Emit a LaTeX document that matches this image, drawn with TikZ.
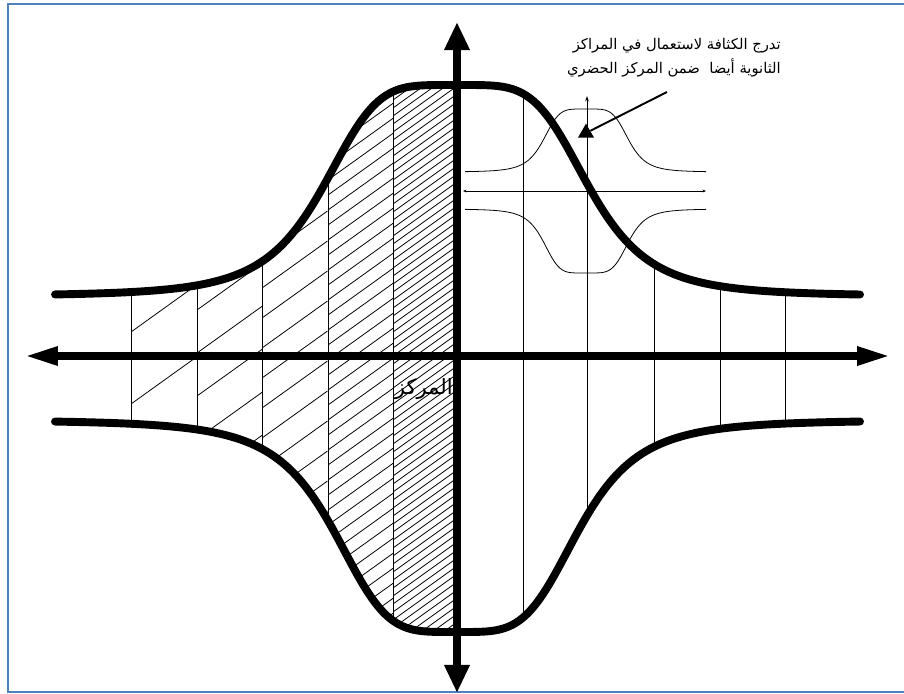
\documentclass[tikz,border=0pt]{standalone}
\usepackage{fontspec}
\newfontfamily\arabicfont[Script=Arabic]{DejaVu Sans}
\TeXXeTstate=1
\usetikzlibrary{arrows.meta,positioning,shapes.geometric}
\definecolor{frameblue}{HTML}{4F81BD}

\begin{document}
\begin{tikzpicture}[x=0.02cm,y=-0.02cm,
  declare function={fu(\x)=296-211/(1+((abs(\x-456)+0.01)/135)^4.5);
    fl(\x)=420+212/(1+((abs(\x-456)+0.01)/125)^4.2);
    bump(\x)=1/(1+((abs(\x-586)+0.01)/43)^5);},
  bound/.style={line width=4.5pt,line cap=round},
  axis/.style={line width=4pt},
  grid/.style={line width=0.45pt},
  hatch/.style={line width=0.45pt},
  thinline/.style={line width=0.45pt},
  tipmark/.style={regular polygon,regular polygon sides=3,fill,minimum size=10.6pt,inner sep=0pt},
  pointer/.style={line width=1.1pt}]
  \useasboundingbox (0,0) rectangle (904,694);
  \draw[frameblue,line width=1.2pt] (8,4) rectangle (920,692);

  \begin{scope}
    \clip plot[domain=131:456,samples=80] (\x,{fu(\x)}) -- plot[domain=456:131,samples=80] (\x,{fl(\x)}) -- cycle;
    \foreach \xa/\sp/\yo in {131/72/44,197/43/52,262/30/78,328/15/60,393/8/60} {
      \begin{scope}
        \clip (\xa,60) rectangle (\xa+65.5,660);
        \foreach \k [evaluate=\k as \yy using \yo+\k*\sp] in {0,...,85}
          \draw[hatch] (\xa,\yy) -- (\xa+65.5,\yy-47);
      \end{scope}
    }
  \end{scope}

  \foreach \gx in {131,197,262,328,393,523,654,720,785}
    \draw[grid] (\gx,{fu(\gx)}) -- (\gx,{fl(\gx)});
  \draw[grid,-{Stealth[length=3pt,width=2pt]}] (587,{fl(587)}) -- (587,96);

  \draw[thinline,{Stealth[length=2pt,width=1.6pt]}-{Stealth[length=2pt,width=1.6pt]}] (463,191) -- (706,191);
  \draw[thinline] plot[domain=465:706,samples=100,smooth] (\x,{172-63*bump(\x)});
  \draw[thinline] plot[domain=465:706,samples=100,smooth] (\x,{209+64*bump(\x)});

  \draw[bound] plot[domain=55:860,samples=161,smooth] (\x,{fu(\x)});
  \draw[bound] plot[domain=55:860,samples=161,smooth] (\x,{fl(\x)});

  \draw[axis,{Triangle[length=18.7pt,width=10pt]}-{Triangle[length=18.7pt,width=10pt]}] (25,356) -- (890,356);
  \draw[axis,{Triangle[length=16pt,width=13.6pt]}-{Triangle[length=16pt,width=13.6pt]}] (457,22) -- (457,693);

  \node[tipmark] (tip) at (586,133) {};
  \coordinate (callout) at (667,92);
  \draw[pointer] (callout) -- (tip);

  \node[anchor=east,align=right,font=\fontsize{8.4}{13.6}\selectfont] (note) at (787,58)
    {\arabicfont\beginR تدرج الكثافة لاستعمال في المراكز\endR\\
     \arabicfont\beginR الثانوية أيضا~~ضمن المركز الحضري\endR};
  \node[anchor=east,font=\fontsize{12}{14}\selectfont,inner sep=0pt] (centre) at (453,389)
    {\arabicfont\beginR المركز\endR};
\end{tikzpicture}
\end{document}
